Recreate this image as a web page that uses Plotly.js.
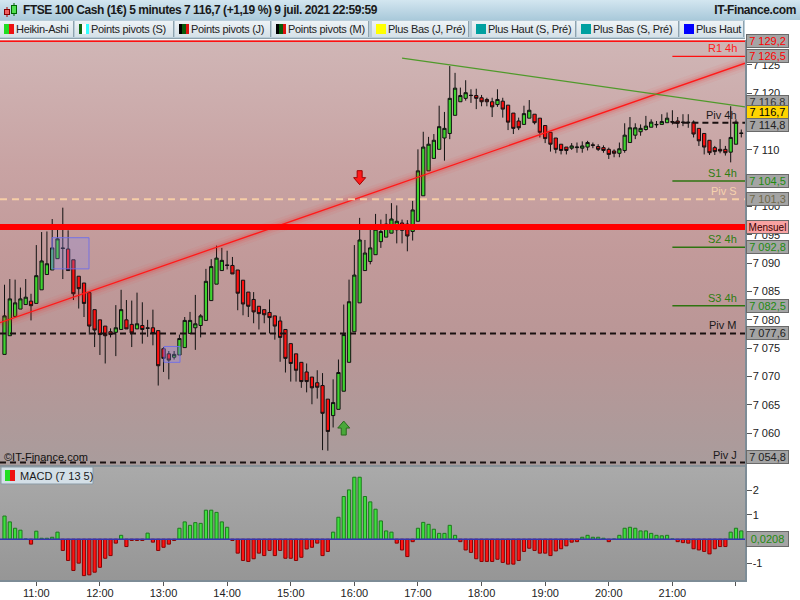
<!DOCTYPE html>
<html><head><meta charset="utf-8">
<script src="https://cdn.plot.ly/plotly-3.0.1.min.js"></script>
<style>
body{margin:0;background:#fff;}
#wrap{position:relative;width:800px;height:600px;overflow:hidden;font-family:"Liberation Sans",Arial,sans-serif;}
#titlebar{position:absolute;left:0;top:0;width:800px;height:20px;background:linear-gradient(#d3e6f0,#a9c9da);}
#title{position:absolute;left:23px;top:3px;font-size:12px;font-weight:bold;letter-spacing:-0.45px;color:#1a1a1a;white-space:nowrap;}
#site{position:absolute;right:4px;top:3px;font-size:12px;font-weight:bold;letter-spacing:-0.4px;color:#1a1a1a;}
#tabrow{position:absolute;left:0;top:20px;width:745px;height:18px;background:#b9cdd9;border-bottom:1px solid #8fa3ae;}
.tab{position:absolute;top:1px;height:16px;background:linear-gradient(#eef3f6,#d5e1e8);border-right:1px solid #8fa3ae;overflow:hidden;white-space:nowrap;font-size:11px;letter-spacing:-0.3px;color:#222;line-height:16px;}
.sw{position:absolute;left:4px;top:3px;width:10px;height:10px;display:flex;}
.sw span{flex:1;}
.tab .tx{position:absolute;left:16px;top:0;}
#bgPrice{position:absolute;left:0;top:40px;width:745px;height:426px;background:linear-gradient(#d0b6b6 0%,#c8a3a3 30%,#c29a9a 50%,#b99696 72%,#a99c9c 100%);}
#bgMacd{position:absolute;left:0;top:466px;width:745px;height:114px;background:linear-gradient(#aaaaaa,#969696);}
#chart{position:absolute;left:0;top:0;width:800px;height:600px;}
#icon{position:absolute;left:3px;top:3px;width:16px;height:15px;}
</style></head>
<body><div id="wrap">
<div id="titlebar">
  <svg id="icon" viewBox="0 0 16 15"><line x1="4" y1="4" x2="4" y2="14" stroke="#a00" /><rect x="1.5" y="6.5" width="5" height="5" fill="#f06060" stroke="#800"/><line x1="11" y1="0" x2="11" y2="13" stroke="#060"/><rect x="8.5" y="2.5" width="5" height="8" fill="#50e050" stroke="#060"/></svg>
  <div id="title">FTSE 100 Cash (1€) 5 minutes 7 116,7 (+1,19 %) 9 juil. 2021 22:59:59</div>
  <div id="site">IT-Finance.com</div>
</div>
<div id="tabrow"></div>
<div id="bgPrice"></div>
<div id="bgMacd"></div>
<div id="chart"></div>
</div>
<script>
// ---------- DATA ----------
const tabLabels = ['Heikin-Ashi','Points pivots (S)','Points pivots (J)','Points pivots (M)','Plus Bas (J, Pré)','Plus Haut (S, Pré)','Plus Bas (S, Pré)','Plus Haut'];
const tabSwatches = [['#22dd22','#ee1111'],['#126612','#ffffff','#33ffff'],['#000000','#0a5a0a','#dd1111'],['#000000','#0a5a0a','#dd1111'],['#ffff00'],['#00a0a0'],['#00a0a0'],['#0000ff']];
const tabLeft = [0,75,175,272,372,472,577,680];
const tabWidth = [73,98,95,96,96,103,101,63];

const day = '2021-07-09 ';
const startMinutes = 10*60+30;   // first candle 10:30, 5-minute bars
const nBars = 140;
const times = [];
for (let i=0;i<nBars;i++){const m=startMinutes+5*i;times.push(day+String(Math.floor(m/60)).padStart(2,'0')+':'+String(m%60).padStart(2,'0'));}

const haOpen = [7073.9,7077.2,7080.6,7081.9,7082.7,7083.3,7082.9,7085.3,7088.0,7088.8,
7090.8,7092.7,7092.5,7090.6,7087.7,7086.5,7084.8,7081.8,7080.0,7078.9,
7077.9,7077.8,7078.3,7080.0,7079.2,7078.4,7079.0,7078.6,7078.6,7078.1,
7074.9,7074.0,7073.4,7073.8,7075.1,7077.6,7078.6,7079.0,7079.9,7083.4,
7086.3,7088.7,7089.7,7089.6,7088.8,7087.0,7084.9,7083.6,7082.4,7081.8,
7081.3,7080.7,7079.8,7078.3,7075.8,7074.0,7072.5,7070.8,7069.9,7068.9,
7068.4,7066.0,7063.1,7064.2,7067.4,7072.5,7077.9,7083.0,7088.7,7090.3,
7091.5,7093.8,7094.6,7095.3,7095.9,7097.1,7096.9,7095.6,7097.4,7101.9,
7106.3,7108.5,7110.1,7112.1,7112.9,7116.1,7118.5,7119.1,7119.65,7119.6,
7119.2,7118.9,7118.5,7118.0,7118.6,7117.9,7116.5,7115.1,7114.5,7115.6,
7116.3,7115.6,7114.3,7113.1,7112.1,7111.0,7110.5,7110.3,7110.4,7110.3,
7110.5,7110.9,7110.6,7110.4,7110.1,7109.8,7109.4,7109.9,7111.3,7112.6,
7113.2,7113.6,7114.0,7114.5,7114.5,7114.8,7115.0,7115.1,7114.9,7114.9,
7114.9,7113.8,7112.9,7111.7,7110.4,7110.1,7110.1,7109.6,7111.0,7113.0];
const haHigh = [7086.2,7087.2,7087.1,7085.7,7087.2,7084.6,7093.2,7095.5,7095.6,7097.8,
7095.9,7099.8,7095.8,7090.6,7087.7,7086.5,7084.8,7081.8,7080.0,7078.9,
7078.5,7082.6,7085.3,7083.5,7083.4,7084.8,7083.1,7080.0,7081.8,7078.1,
7075.2,7074.5,7074.5,7077.4,7080.5,7081.4,7084.4,7081.0,7089.0,7090.7,
7093.1,7092.7,7092.2,7091.1,7088.8,7087.0,7084.9,7084.9,7082.4,7081.8,
7083.6,7080.7,7080.6,7078.3,7075.8,7074.0,7072.5,7072.3,7069.9,7071.1,
7070.6,7066.0,7069.5,7073.0,7082.7,7087.1,7093.2,7098.0,7094.1,7096.0,
7098.7,7097.7,7098.7,7100.6,7100.2,7097.7,7097.6,7101.0,7110.1,7113.2,
7112.3,7112.8,7117.8,7116.7,7124.8,7123.6,7121.0,7122.3,7120.7,7120.8,
7119.7,7119.2,7119.2,7120.7,7119.2,7117.9,7116.5,7115.7,7117.8,7118.8,
7116.3,7115.6,7114.3,7113.1,7112.1,7111.0,7110.5,7111.2,7111.3,7111.5,
7111.6,7111.3,7111.0,7110.8,7110.4,7110.1,7111.3,7114.7,7115.8,7114.7,
7114.5,7116.0,7115.4,7115.1,7116.3,7116.6,7117.0,7115.8,7116.3,7116.3,
7115.2,7113.8,7112.9,7111.7,7110.7,7111.9,7110.7,7117.7,7115.4,7113.6];
const haLow = [7073.9,7077.2,7080.6,7081.9,7082.7,7079.9,7082.9,7085.3,7088.0,7088.8,
7090.8,7087.2,7088.7,7083.5,7082.0,7080.5,7077.4,7075.2,7073.8,7072.3,
7076.9,7073.6,7078.3,7078.4,7075.2,7078.4,7075.8,7077.0,7075.5,7068.4,
7070.8,7069.5,7073.0,7073.8,7075.1,7077.6,7074.7,7076.9,7079.9,7083.4,
7086.3,7088.7,7088.9,7088.1,7081.7,7080.8,7080.5,7079.4,7078.3,7079.4,
7077.6,7076.5,7072.6,7070.7,7069.1,7069.1,7068.0,7067.2,7065.1,7066.1,
7057.0,7056.9,7061.0,7064.2,7067.4,7072.5,7077.9,7083.0,7088.7,7089.8,
7091.5,7092.7,7094.6,7095.3,7093.5,7093.5,7092.1,7094.0,7097.4,7101.9,
7106.3,7108.5,7110.1,7108.1,7111.9,7116.1,7118.5,7118.7,7118.3,7117.2,
7117.7,7117.7,7115.8,7117.6,7115.7,7113.5,7112.8,7113.5,7114.5,7115.6,
7114.5,7112.2,7111.2,7109.7,7109.4,7109.2,7109.2,7110.0,7109.5,7109.5,
7109.9,7110.3,7109.8,7109.5,7108.4,7108.7,7108.7,7109.5,7111.3,7111.9,
7112.5,7113.4,7114.0,7113.9,7114.5,7114.8,7114.5,7113.9,7114.2,7113.9,
7112.2,7110.7,7109.2,7109.1,7109.1,7109.4,7109.0,7107.8,7111.0,7112.2];
const haClose = [7080.7,7083.7,7083.0,7083.7,7084.0,7082.5,7087.8,7090.4,7089.9,7092.7,
7094.3,7092.6,7088.7,7084.6,7085.5,7082.9,7078.9,7078.2,7077.4,7077.2,
7077.4,7078.6,7081.8,7078.4,7077.7,7079.3,7078.3,7078.5,7077.6,7071.9,
7073.2,7072.9,7073.9,7076.7,7079.9,7079.9,7079.3,7080.7,7086.8,7089.4,
7090.9,7090.5,7089.6,7088.1,7084.7,7082.8,7082.4,7081.4,7081.1,7080.9,
7080.4,7078.9,7076.9,7073.2,7072.3,7071.1,7069.1,7069.1,7068.0,7068.1,
7063.5,7060.3,7065.4,7070.7,7077.4,7083.2,7087.9,7094.1,7091.8,7092.7,
7096.0,7095.6,7096.9,7097.8,7097.4,7095.8,7094.8,7099.4,7106.3,7110.5,
7111.0,7111.7,7114.1,7113.8,7119.1,7120.9,7119.6,7120.1,7119.6,7119.1,
7118.5,7118.5,7117.6,7118.9,7117.2,7114.9,7113.8,7113.9,7116.4,7117.0,
7114.8,7113.1,7112.0,7111.0,7110.1,7109.9,7109.9,7110.7,7110.5,7110.7,
7111.3,7110.8,7110.1,7109.9,7109.2,7109.4,7110.2,7112.6,7113.9,7113.9,
7113.8,7114.2,7114.9,7114.45,7115.0,7115.6,7114.9,7114.7,7114.85,7114.8,
7112.8,7111.6,7110.5,7109.5,7109.7,7109.8,7109.5,7112.2,7114.9,7112.9];

const macd = [0.95,0.71,0.45,0.37,0.01,-0.2,0.33,0.04,0.04,0.08,
0.29,-0.46,-0.87,-1.28,-0.98,-1.49,-1.46,-1.35,-1.15,-0.78,
-0.67,-0.16,0.16,-0.3,-0.05,-0.05,-0.05,0.25,-0.12,-0.46,
-0.33,-0.2,-0.05,0.45,0.71,0.57,0.68,0.65,1.19,1.19,
1.1,0.71,0.49,-0.05,-0.57,-0.87,-0.91,-0.8,-0.57,-0.67,
-0.46,-0.67,-0.46,-0.78,-0.78,-0.87,-0.74,-0.4,-0.33,-0.16,
-0.67,-0.5,0.29,0.9,1.75,2.02,2.54,2.54,1.75,1.53,
1.23,0.75,0.34,0.29,-0.16,-0.44,-0.71,-0.1,0.45,0.69,
0.61,0.41,0.24,0.24,0.57,0.16,-0.1,-0.44,-0.54,-0.8,
-0.91,-0.91,-0.91,-0.82,-0.95,-1.02,-1.02,-0.87,-0.5,-0.37,
-0.46,-0.57,-0.57,-0.67,-0.48,-0.39,-0.27,-0.12,-0.1,0.08,
0.16,0.08,0.08,0.04,-0.1,0.01,0.16,0.45,0.49,0.45,
0.34,0.34,0.24,0.16,0.14,0.16,0.01,-0.1,-0.14,-0.16,
-0.39,-0.44,-0.5,-0.6,-0.39,-0.3,-0.3,0.29,0.45,0.34];

const hourTicks = ['11:00','12:00','13:00','14:00','15:00','16:00','17:00','18:00','19:00','20:00','21:00','22:00'];
const hourLabels = ['11:00','12:00','13:00','14:00','15:00','16:00','17:00','18:00','19:00','20:00','21:00',''];
// price axis ticks; labels fully hidden behind value boxes in the reference are left blank
const priceTicks = [7060,7065,7070,7075,7080,7085,7090,7095,7100,7105,7110,7115,7120,7125];
const priceTickLabels = ['7 060','7 065','7 070','7 075','7 080','7 085','7 090','7 095','7 100','','7 110','','7 120','7 125'];
const macdTicks = [-1,0,1,2];
const macdTickLabels = ['-1','','1','2'];

const xStart = day+'10:25:45', xEnd = day+'22:08:30';
const redTrendX = [xStart, xEnd], redTrendY = [7079.5, 7125.3];
const greenTrendX = [day+'16:45', xEnd], greenTrendY = [7126.2, 7117.6];

const fullLevels = [
  {v:7129.2, color:'#ff1010', width:1.5, dash:'solid'},
  {v:7101.3, color:'#f6cda6', width:2, dash:'7px,5px', label:'Piv S', lc:'#f6d2ae'},
  {v:7096.4, color:'#ff0000', width:6, dash:'solid'},
  {v:7077.6, color:'#1a1010', width:2, dash:'6px,4px', label:'Piv M', lc:'#1a1a1a'},
  {v:7054.8, color:'#1a1010', width:2, dash:'6px,4px', label:'Piv J', lc:'#1a1a1a'}
];
const fourHourStart = day+'21:00';
const fourHourLevels = [
  {v:7126.5, color:'#ff1010', width:1.2, dash:'solid', label:'R1 4h', lc:'#ff1a1a'},
  {v:7114.8, color:'#1a1010', width:2, dash:'6px,4px', label:'Piv 4h', lc:'#1a1a1a'},
  {v:7104.5, color:'#2e7410', width:1.5, dash:'solid', label:'S1 4h', lc:'#2e7d10'},
  {v:7092.8, color:'#2e7410', width:1.5, dash:'solid', label:'S2 4h', lc:'#2e7d10'},
  {v:7082.5, color:'#2e7410', width:1.5, dash:'solid', label:'S3 4h', lc:'#2e7d10'}
];
const axisBoxes = [
  {v:7129.2, t:'7 129,2', fc:'#ff0000', bg:'#a4a4a4', shift:0},
  {v:7126.5, t:'7 126,5', fc:'#ff0000', bg:'#a4a4a4', shift:0},
  {v:7116.8, t:'7 116,8', fc:'#333333', bg:'#a4a4a4', shift:9},
  {v:7114.8, t:'7 114,8', fc:'#222222', bg:'#a4a4a4', shift:-2},
  {v:7116.7, t:'7 116,7', fc:'#000000', bg:'#ffd400', shift:0},
  {v:7104.5, t:'7 104,5', fc:'#1f8a10', bg:'#a4a4a4', shift:0},
  {v:7101.3, t:'7 101,3', fc:'#706848', bg:'#a4a4a4', shift:0},
  {v:7096.4, t:'Mensuel', fc:'#3a0000', bg:'#f8a2a2', shift:0, fs:10},
  {v:7092.8, t:'7 092,8', fc:'#1f8a10', bg:'#a4a4a4', shift:0},
  {v:7082.5, t:'7 082,5', fc:'#1f8a10', bg:'#a4a4a4', shift:0},
  {v:7077.6, t:'7 077,6', fc:'#222222', bg:'#a4a4a4', shift:0},
  {v:7054.8, t:'7 054,8', fc:'#222222', bg:'#a4a4a4', shift:6}
];
const macdLast = {v:0.0208, t:'0,0208'};
const highLowBoxes = [
  {x0:day+'11:14:48', x1:day+'11:49:42', y0:7089.0, y1:7094.5},
  {x0:day+'13:00:27', x1:day+'13:15:33', y0:7072.5, y1:7075.3}
];
const signalDown = {x:day+'16:05', y:7105.1};
const signalUp = {x:day+'15:50', y:7060.9};

// ---------- HEADER TABS ----------
const row = document.getElementById('tabrow');
tabLabels.forEach((lab,i)=>{
  const d=document.createElement('div');d.className='tab';d.style.left=tabLeft[i]+'px';d.style.width=tabWidth[i]+'px';
  const sw=document.createElement('div');sw.className='sw';
  tabSwatches[i].forEach(c=>{const s=document.createElement('span');s.style.background=c;sw.appendChild(s);});
  d.appendChild(sw);
  const tx=document.createElement('div');tx.className='tx';tx.textContent=lab;d.appendChild(tx);
  row.appendChild(d);
});

// ---------- PLOT ----------
const PW=745, PB=580, PH=540;
const xp = px=>px/PW, yp = py=>(PB-py)/PH;
const splitY = yp(466);
const FF = 'Liberation Sans, Arial, sans-serif';

const traces = [];
traces.push({type:'bar', x:times, y:macd, xaxis:'x', yaxis:'y2', hoverinfo:'skip',
  marker:{color:macd.map(v=>v>=0?'#3fe03f':'#ff1414'), line:{color:macd.map(v=>v>=0?'#1d7a1d':'#8a0000'), width:1}}});
traces.push({type:'candlestick', x:times, open:haOpen, high:haHigh, low:haLow, close:haClose, xaxis:'x', yaxis:'y',
  increasing:{line:{color:'#111111',width:1}, fillcolor:'#3fd42f'},
  decreasing:{line:{color:'#111111',width:1}, fillcolor:'#ff1010'},
  whiskerwidth:0, hoverinfo:'skip'});
[[14,'rgba(255,40,40,0.05)'],[9,'rgba(255,30,30,0.08)'],[5,'rgba(255,20,20,0.12)'],[1.3,'#ff1a1a']].forEach(([w,c])=>{
  traces.push({type:'scatter', mode:'lines', x:redTrendX, y:redTrendY, xaxis:'x', yaxis:'y', line:{color:c,width:w}, hoverinfo:'skip'});
});
traces.push({type:'scatter', mode:'lines', x:greenTrendX, y:greenTrendY, xaxis:'x', yaxis:'y', line:{color:'#4f9a2a',width:1.3}, hoverinfo:'skip'});

const shapes = [];
const annotations = [];
fullLevels.forEach(L=>{
  shapes.push({type:'line', xref:'paper', yref:'y', x0:0, x1:1, y0:L.v, y1:L.v, line:{color:L.color,width:L.width,dash:L.dash}});
  if(L.label) annotations.push({xref:'paper', yref:'y', x:xp(739), y:L.v, yshift:8, xanchor:'right', yanchor:'middle', text:L.label, showarrow:false, font:{size:11,color:L.lc,family:FF}});
});
fourHourLevels.forEach(L=>{
  shapes.push({type:'line', xref:'x', yref:'y', x0:fourHourStart, x1:xEnd, y0:L.v, y1:L.v, line:{color:L.color,width:L.width,dash:L.dash}});
  annotations.push({xref:'paper', yref:'y', x:xp(739), y:L.v, yshift:8, xanchor:'right', yanchor:'middle', text:L.label, showarrow:false, font:{size:11,color:L.lc,family:FF}});
});
highLowBoxes.forEach(b=>{
  shapes.push({type:'rect', xref:'x', yref:'y', x0:b.x0, x1:b.x1, y0:b.y0, y1:b.y1, fillcolor:'rgba(140,140,235,0.28)', line:{color:'rgba(110,110,235,0.9)',width:1}});
});
shapes.push({type:'path', xref:'x', yref:'y', xsizemode:'pixel', ysizemode:'pixel', xanchor:signalDown.x, yanchor:signalDown.y,
  path:'M -2.5 7 L 2.5 7 L 2.5 0 L 6 0 L 0 -7 L -6 0 L -2.5 0 Z', fillcolor:'#ff1a1a', line:{color:'#a00000',width:1}});
shapes.push({type:'path', xref:'x', yref:'y', xsizemode:'pixel', ysizemode:'pixel', xanchor:signalUp.x, yanchor:signalUp.y,
  path:'M -2.5 -7 L 2.5 -7 L 2.5 0 L 6 0 L 0 7 L -6 0 L -2.5 0 Z', fillcolor:'#4aa83a', line:{color:'#2a6a1e',width:1}});
shapes.push({type:'line', xref:'paper', yref:'y2', x0:0, x1:1, y0:0, y1:0, line:{color:'#3535b0',width:1.5}});
shapes.push({type:'line', xref:'paper', yref:'paper', x0:0, x1:1, y0:splitY, y1:splitY, line:{color:'#7d8c96',width:1.5}});
shapes.push({type:'rect', xref:'paper', yref:'paper', x0:xp(1), x1:xp(93), y0:yp(484), y1:yp(467), fillcolor:'#d3dfe7', line:{color:'#8b9ba6',width:1}});
shapes.push({type:'rect', xref:'paper', yref:'paper', x0:xp(5), x1:xp(10), y0:yp(481), y1:yp(470), fillcolor:'#22dd22', line:{width:0}});
shapes.push({type:'rect', xref:'paper', yref:'paper', x0:xp(10), x1:xp(15), y0:yp(481), y1:yp(470), fillcolor:'#ee1111', line:{width:0}});
annotations.push({xref:'paper', yref:'paper', x:xp(18), y:yp(475.5), xanchor:'left', yanchor:'middle', text:'MACD (7 13 5)', showarrow:false, font:{size:11,color:'#1a1a1a',family:FF}});
annotations.push({xref:'paper', yref:'paper', x:xp(2), y:yp(457), xanchor:'left', yanchor:'middle', text:'©IT-Finance.com', showarrow:false, font:{size:11,color:'#111',family:FF}});
axisBoxes.forEach(b=>{
  annotations.push({xref:'paper', yref:'y', x:xp(746), y:b.v, yshift:b.shift, xanchor:'left', yanchor:'middle', text:b.t, showarrow:false,
    bgcolor:b.bg, bordercolor:'#6a6a6a', borderwidth:1, borderpad:0, width:41, height:12, align:'center',
    font:{size:b.fs||11,color:b.fc,family:FF}});
});
annotations.push({xref:'paper', yref:'y2', x:xp(746), y:macdLast.v, xanchor:'left', yanchor:'middle', text:macdLast.t, showarrow:false,
  bgcolor:'#a4a4a4', bordercolor:'#6a6a6a', borderwidth:1, borderpad:0, width:41, height:14, align:'center',
  font:{size:11,color:'#1f8a10',family:FF}});

const layout = {
  width:800, height:600, margin:{l:0,r:55,t:40,b:20,pad:0},
  paper_bgcolor:'rgba(0,0,0,0)', plot_bgcolor:'rgba(0,0,0,0)',
  showlegend:false, separators:', ', bargap:0.4, boxgap:0.12, dragmode:false,
  font:{family:FF, size:11, color:'#222'},
  xaxis:{type:'date', range:[xStart,xEnd], anchor:'y2', rangeslider:{visible:false},
    tickvals:hourTicks.map(h=>day+h), ticktext:hourLabels, ticks:'outside', ticklen:4, tickcolor:'#555', ticklabelstandoff:-2,
    showline:true, linecolor:'#7d8c96', linewidth:1.5, showgrid:false, zeroline:false, tickfont:{size:11,color:'#222'}},
  yaxis:{domain:[splitY,1], range:[7054.2,7129.4], side:'right', anchor:'x', tickvals:priceTicks, ticktext:priceTickLabels,
    ticks:'outside', ticklen:5, tickcolor:'#555', ticklabelstandoff:-1, showline:true, linecolor:'#7d8c96', linewidth:1.5, showgrid:false, zeroline:false,
    tickfont:{size:11,color:'#222'}},
  yaxis2:{domain:[0,splitY], range:[-1.67,3.0], side:'right', anchor:'x', tickvals:macdTicks, ticktext:macdTickLabels,
    ticks:'outside', ticklen:5, tickcolor:'#555', ticklabelstandoff:-1, showline:true, linecolor:'#7d8c96', linewidth:1.5, showgrid:false, zeroline:false,
    tickfont:{size:11,color:'#222'}},
  shapes:shapes, annotations:annotations
};
Plotly.newPlot('chart', traces, layout, {displayModeBar:false, staticPlot:true});
</script>
</body></html>
